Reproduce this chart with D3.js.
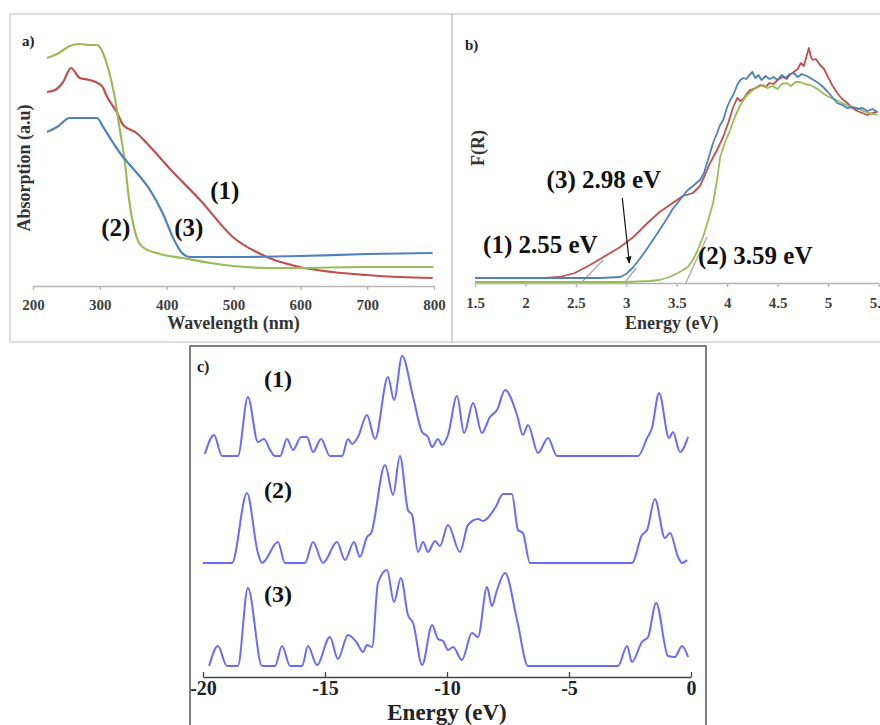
<!DOCTYPE html>
<html>
<head>
<meta charset="utf-8">
<script src="https://cdn.jsdelivr.net/npm/d3@7"></script>
<style>
body { margin: 0; background: #fff; }
svg { display: block; font-family: "Liberation Serif", "DejaVu Serif", serif; }
.tick text { font-weight: bold; }
</style>
</head>
<body>
<svg id="fig" width="880" height="725"></svg>
<script>
// ----- DATA -----
// a) absorption spectra, [wavelength nm, absorption a.u.]
const abs1 = [[221,1.94],[233,1.96],[245,2.04],[257,2.18],[270,2.08],[285,2.06],[303,2.00],[311,1.89],[326,1.73],[335,1.61],[355,1.53],[370,1.43],[405,1.17],[450,0.86],[499,0.49],[550,0.29],[599,0.19],[648,0.14],[699,0.11],[749,0.09],[798,0.08]];
const abs2 = [[221,2.28],[236,2.32],[255,2.40],[270,2.42],[285,2.41],[296,2.41],[300,2.39],[311,2.21],[323,1.86],[330,1.56],[338,1.21],[342,0.96],[346,0.76],[355,0.49],[364,0.39],[390,0.32],[424,0.28],[465,0.23],[499,0.20],[554,0.18],[599,0.18],[689,0.19],[799,0.19]];
const abs3 = [[221,1.54],[236,1.59],[255,1.68],[270,1.68],[296,1.68],[305,1.59],[320,1.43],[330,1.33],[349,1.18],[375,0.96],[394,0.73],[409,0.49],[423,0.33],[435,0.29],[499,0.29],[599,0.30],[699,0.32],[798,0.33]];
const wavelengthTicks = [200, 300, 400, 500, 600, 700, 800];

// b) Kubelka-Munk F(R), [energy eV, F(R)]
const fr1 = [[1.50,5],[2.00,5],[2.19,5],[2.34,6],[2.49,10],[2.64,18],[2.79,27],[2.94,36],[3.07,46],[3.21,60],[3.33,71],[3.46,80],[3.56,87],[3.66,90],[3.73,97],[3.78,108],[3.83,120],[3.90,133],[3.96,146],[4.01,160],[4.06,176],[4.10,185],[4.13,182],[4.16,184],[4.20,190],[4.23,193],[4.28,195],[4.33,198],[4.38,196],[4.42,200],[4.46,199],[4.50,203],[4.55,206],[4.59,204],[4.63,209],[4.66,211],[4.70,214],[4.73,220],[4.76,217],[4.79,228],[4.81,235],[4.83,226],[4.85,223],[4.88,224],[4.92,218],[4.96,214],[4.99,208],[5.04,198],[5.09,190],[5.14,184],[5.19,180],[5.24,175],[5.29,172],[5.34,170],[5.39,168],[5.44,170],[5.49,171]];
const fr2 = [[1.50,1],[2.00,1],[2.50,1],[3.00,1],[3.23,2],[3.33,3],[3.43,6],[3.53,11],[3.61,16],[3.66,23],[3.70,31],[3.76,46],[3.81,62],[3.86,80],[3.90,103],[3.93,126],[3.98,141],[4.03,153],[4.08,167],[4.13,178],[4.18,186],[4.23,191],[4.27,194],[4.31,196],[4.36,198],[4.40,195],[4.45,197],[4.50,194],[4.54,199],[4.59,200],[4.63,197],[4.68,201],[4.72,201],[4.77,199],[4.82,198],[4.86,196],[4.91,193],[4.96,189],[5.01,186],[5.06,184],[5.12,181],[5.18,178],[5.24,176],[5.29,175],[5.35,172],[5.40,170],[5.45,169],[5.49,168]];
const fr3 = [[1.50,5],[2.00,5],[2.50,5],[2.74,5],[2.94,6],[3.00,9],[3.07,16],[3.14,25],[3.21,35],[3.27,44],[3.33,53],[3.40,64],[3.46,74],[3.53,83],[3.60,92],[3.66,97],[3.73,103],[3.77,110],[3.80,120],[3.86,140],[3.90,150],[3.93,158],[3.96,163],[4.00,176],[4.03,183],[4.06,188],[4.10,198],[4.13,203],[4.16,205],[4.19,204],[4.22,208],[4.25,211],[4.28,205],[4.31,208],[4.34,203],[4.38,207],[4.42,204],[4.46,206],[4.50,203],[4.54,208],[4.58,205],[4.62,209],[4.66,210],[4.70,206],[4.74,209],[4.79,207],[4.84,204],[4.89,201],[4.94,197],[4.99,192],[5.04,186],[5.09,180],[5.14,178],[5.19,175],[5.24,176],[5.29,174],[5.34,175],[5.39,172],[5.44,174],[5.49,171]];
const bandGaps = [2.55, 3.59, 2.98];               // samples (1), (2), (3)
const tangentEnds = [[2.77,23], [3.80,46], [3.10,15]];
const energyTicksB = [1.5, 2, 2.5, 3, 3.5, 4, 4.5, 5, 5.5];

// c) density of states, [energy eV, DOS a.u.]
const dos1 = [[-19.92,2],[-19.55,21],[-19.22,0],[-18.57,0],[-18.16,59],[-17.75,14],[-17.50,17],[-17.25,6],[-17.05,0],[-16.84,0],[-16.56,17],[-16.31,6],[-15.98,19],[-15.74,19],[-15.49,4],[-15.16,17],[-14.80,0],[-14.30,0],[-14.06,17],[-13.89,12],[-13.65,19],[-13.28,41],[-12.95,17],[-12.42,79],[-12.17,56],[-11.84,100],[-11.39,59],[-11.02,24],[-10.78,19],[-10.61,9],[-10.37,17],[-10.20,11],[-9.96,21],[-9.59,60],[-9.30,23],[-8.93,53],[-8.57,23],[-8.24,39],[-7.95,46],[-7.62,66],[-7.13,41],[-6.89,21],[-6.68,31],[-6.27,3],[-5.86,18],[-5.49,0],[-2.17,0],[-1.80,18],[-1.60,28],[-1.31,63],[-0.90,18],[-0.74,24],[-0.45,4],[-0.12,19]];
const dos2 = [[-20.00,0],[-18.81,0],[-18.20,70],[-17.75,10],[-17.58,0],[-16.93,21],[-16.64,0],[-15.82,0],[-15.49,21],[-15.08,0],[-14.51,21],[-14.18,3],[-13.81,21],[-13.57,6],[-13.28,26],[-13.11,30],[-12.54,98],[-12.21,68],[-11.93,107],[-11.60,53],[-11.43,48],[-11.19,11],[-10.98,21],[-10.78,11],[-10.49,22],[-10.29,17],[-9.96,38],[-9.47,11],[-9.14,38],[-8.73,44],[-8.52,42],[-8.03,55],[-7.70,69],[-7.34,69],[-7.09,33],[-6.89,30],[-6.60,0],[-2.42,0],[-2.01,28],[-1.80,33],[-1.48,64],[-1.07,25],[-0.86,30],[-0.53,6],[-0.37,0],[-0.16,3]];
const dos3 = [[-19.75,0],[-19.39,20],[-19.02,0],[-18.57,0],[-18.16,78],[-17.58,0],[-17.05,0],[-16.76,20],[-16.43,0],[-15.94,0],[-15.70,20],[-15.33,1],[-14.80,29],[-14.47,7],[-14.06,31],[-13.69,23],[-13.44,14],[-13.28,21],[-13.07,19],[-12.83,83],[-12.46,96],[-12.17,64],[-11.89,88],[-11.60,51],[-11.39,43],[-11.02,1],[-10.61,41],[-10.37,27],[-10.16,25],[-9.96,16],[-9.75,19],[-9.39,6],[-8.98,33],[-8.73,29],[-8.36,79],[-8.16,60],[-7.95,76],[-7.62,93],[-7.13,46],[-6.68,0],[-2.99,0],[-2.62,20],[-2.42,4],[-2.01,24],[-1.76,29],[-1.43,63],[-0.94,10],[-0.66,9],[-0.37,20],[-0.12,9]];
const dosOffsets = [221, 114, 11];
const energyTicksC = [-20, -15, -10, -5, 0];

const sampleLabels = ["(1)", "(2)", "(3)"];
const colors = ["#c0504d", "#9bbb59", "#4f81bd"];
const dosColor = "#6b6bf7";

const svg = d3.select("#fig");

// ----- PANEL FRAMES -----
svg.append("rect").attr("x", 10).attr("y", 14).attr("width", 442).attr("height", 328)
  .attr("fill", "none").attr("stroke", "#d2d2d2").attr("stroke-width", 1.5);
svg.append("rect").attr("x", 452).attr("y", 14).attr("width", 440).attr("height", 328)
  .attr("fill", "none").attr("stroke", "#d2d2d2").attr("stroke-width", 1.5);
svg.append("rect").attr("x", 190).attr("y", 346).attr("width", 516).attr("height", 390)
  .attr("fill", "none").attr("stroke", "#555").attr("stroke-width", 1.5);

function styleAxis(g, lineColor, textColor, fontSize) {
  g.selectAll("path, line").attr("stroke", lineColor).attr("stroke-width", 1.3);
  g.selectAll("text").attr("fill", textColor)
    .style("font-family", "'Liberation Serif', serif").style("font-size", fontSize + "px");
}

// ----- PANEL A -----
const xA = d3.scaleLinear().domain([200, 800]).range([33, 434]);
const yA = d3.scaleLinear().domain([0, 2.5]).range([286, 36]);
const lineA = d3.line().x(d => xA(d[0])).y(d => yA(d[1])).curve(d3.curveMonotoneX);

svg.append("g").attr("transform", "translate(0," + yA(0) + ")")
  .call(d3.axisBottom(xA).tickValues(wavelengthTicks).tickSize(4).tickSizeOuter(0).tickPadding(9))
  .call(g => styleAxis(g, "#b4b4b4", "#404040", 15));

[abs1, abs2, abs3].forEach((s, i) => {
  svg.append("path").datum(s).attr("d", lineA)
    .attr("fill", "none").attr("stroke", colors[i]).attr("stroke-width", 2.2);
});

svg.append("text").attr("x", 22).attr("y", 46).attr("font-weight", "bold")
  .attr("font-size", 15).attr("fill", "#222").text("a)");
svg.append("text").attr("transform", "translate(30,168) rotate(-90)")
  .attr("text-anchor", "middle").attr("font-weight", "bold").attr("font-size", 18)
  .attr("fill", "#333").text("Absorption (a.u)");
svg.append("text").attr("x", xA(500)).attr("y", 329).attr("text-anchor", "middle")
  .attr("font-weight", "bold").attr("font-size", 18).attr("fill", "#333").text("Wavelength (nm)");

const labelPosA = [[487, 0.87], [324, 0.50], [433, 0.50]];
sampleLabels.forEach((t, i) => {
  svg.append("text").attr("x", xA(labelPosA[i][0])).attr("y", yA(labelPosA[i][1]))
    .attr("text-anchor", "middle").attr("font-weight", "bold").attr("font-size", 25)
    .attr("fill", "#111").text(t);
});

// ----- PANEL B -----
const xB = d3.scaleLinear().domain([1.5, 5.5]).range([475, 878.5]);
const yB = d3.scaleLinear().domain([0, 240]).range([283, 43]);
const lineB = d3.line().x(d => xB(d[0])).y(d => yB(d[1]));

svg.append("g").attr("transform", "translate(0," + yB(0) + ")")
  .call(d3.axisBottom(xB).tickValues(energyTicksB).tickFormat(d => String(d))
    .tickSize(4).tickSizeOuter(0).tickPadding(10))
  .call(g => styleAxis(g, "#b4b4b4", "#404040", 15));

// tangent extrapolations to the band gaps
bandGaps.forEach((g, i) => {
  svg.append("line").attr("x1", xB(g)).attr("y1", yB(0))
    .attr("x2", xB(tangentEnds[i][0])).attr("y2", yB(tangentEnds[i][1]))
    .attr("stroke", "#a8a8a8").attr("stroke-width", 1.3);
});

[fr1, fr2, fr3].forEach((s, i) => {
  svg.append("path").datum(s).attr("d", lineB)
    .attr("fill", "none").attr("stroke", colors[i]).attr("stroke-width", 1.8)
    .attr("stroke-linejoin", "round");
});

svg.append("text").attr("x", 465).attr("y", 50).attr("font-weight", "bold")
  .attr("font-size", 15).attr("fill", "#222").text("b)");
svg.append("text").attr("transform", "translate(484,148) rotate(-90)")
  .attr("text-anchor", "middle").attr("font-weight", "bold").attr("font-size", 18)
  .attr("fill", "#333").text("F(R)");
svg.append("text").attr("x", xB(3.45)).attr("y", 329).attr("text-anchor", "middle")
  .attr("font-weight", "bold").attr("font-size", 18).attr("fill", "#333").text("Energy (eV)");

const labelPosB = [[1.58, 30], [3.71, 19], [2.21, 95]];
sampleLabels.forEach((t, i) => {
  svg.append("text").attr("x", xB(labelPosB[i][0])).attr("y", yB(labelPosB[i][1]))
    .attr("font-weight", "bold").attr("font-size", 25).attr("fill", "#111")
    .text(t + " " + bandGaps[i].toFixed(2) + " eV");
});

svg.append("defs").append("marker").attr("id", "arrow")
  .attr("viewBox", "0 0 10 10").attr("refX", 9).attr("refY", 5)
  .attr("markerWidth", 6).attr("markerHeight", 6).attr("orient", "auto")
  .append("path").attr("d", "M0,1 L10,5 L0,9 Z").attr("fill", "#111");
svg.append("line").attr("x1", xB(2.96)).attr("y1", yB(85))
  .attr("x2", xB(3.03)).attr("y2", yB(20))
  .attr("stroke", "#111").attr("stroke-width", 1.2).attr("marker-end", "url(#arrow)");

// ----- PANEL C -----
const xC = d3.scaleLinear().domain([-20, 0]).range([203, 691]);
const yC = d3.scaleLinear().domain([0, 330]).range([677, 347]);

svg.append("g").attr("transform", "translate(0," + yC(0) + ")")
  .call(d3.axisBottom(xC).tickValues(energyTicksC).tickFormat(d => String(d))
    .tickSize(-5).tickSizeOuter(0).tickPadding(4))
  .call(g => styleAxis(g, "#444", "#222", 20));

[dos1, dos2, dos3].forEach((s, i) => {
  const off = dosOffsets[i];
  const lineC = d3.line().x(d => xC(d[0])).y(d => yC(d[1] + off)).curve(d3.curveMonotoneX);
  svg.append("path").datum(s).attr("d", lineC)
    .attr("fill", "none").attr("stroke", dosColor).attr("stroke-width", 2)
    .attr("stroke-linejoin", "round");
});

svg.append("text").attr("x", 197).attr("y", 372).attr("font-weight", "bold")
  .attr("font-size", 16).attr("fill", "#222").text("c)");
svg.append("text").attr("x", xC(-10)).attr("y", 720).attr("text-anchor", "middle")
  .attr("font-weight", "bold").attr("font-size", 23).attr("fill", "#222").text("Energy (eV)");

const labelYC = [290, 179, 75];
sampleLabels.forEach((t, i) => {
  svg.append("text").attr("x", xC(-16.93)).attr("y", yC(labelYC[i]))
    .attr("text-anchor", "middle").attr("font-weight", "bold").attr("font-size", 24)
    .attr("fill", "#111").text(t);
});
</script>
</body>
</html>
